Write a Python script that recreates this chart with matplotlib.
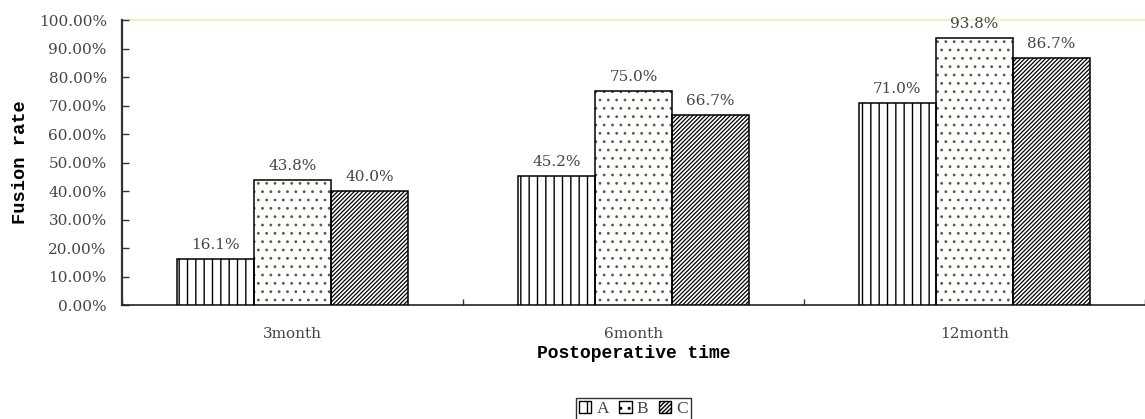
import matplotlib
matplotlib.use("Agg")
import matplotlib.pyplot as plt
from matplotlib.patches import Patch
import numpy as np

# Fusion rate (%) per group at each follow-up time
categories = ["3month", "6month", "12month"]
groups = ["A", "B", "C"]
rate_a = [16.1, 45.2, 71.0]
rate_b = [43.8, 75.0, 93.8]
rate_c = [40.0, 66.7, 86.7]
y_ticks = [0, 10, 20, 30, 40, 50, 60, 70, 80, 90, 100]

series = [rate_a, rate_b, rate_c]
hatches = ["||", "..", "////////"]
hatch_colors = ["black", "#5a5a40", "black"]
hatch_widths = [1.0, 0.8, 0.9]

serif = "DejaVu Serif"
mono = "Liberation Mono"
text_gray = "#454545"

fig = plt.figure(figsize=(11.45, 4.19), dpi=100)
ax = fig.add_axes([0.1066, 0.272, 0.8934, 0.68])

x = np.arange(len(categories))
width = 0.226
offsets = [-width, 0, width]

handles = []
for vals, off, hatch, hc, hw, name in zip(series, offsets, hatches,
                                          hatch_colors, hatch_widths, groups):
    # hatch fill first, then a crisp black outline on top
    with plt.rc_context({"hatch.linewidth": hw}):
        ax.bar(x + off, vals, width, facecolor="white", edgecolor=hc,
               hatch=hatch, linewidth=0, zorder=3)
    bars = ax.bar(x + off, vals, width, fill=False, edgecolor="black",
                  linewidth=1.1, zorder=4)
    with plt.rc_context({"hatch.linewidth": hw}):
        handles.append(Patch(facecolor="white", edgecolor="black",
                             hatch=hatch, linewidth=1.0, label=name))
    for b, v in zip(bars, vals):
        ax.annotate(f"{v:.1f}%", (b.get_x() + b.get_width() / 2, v),
                    xytext=(0, 5), textcoords="offset points",
                    ha="center", va="bottom", fontsize=11,
                    family=serif, color=text_gray)

ax.set_xlim(-0.5, len(categories) - 0.5)
ax.set_ylim(0, 100)

# top reference line at 100%
ax.axhline(100, color="#f3efc6", linewidth=1.6, zorder=1, clip_on=False)

ax.set_yticks(y_ticks)
ax.set_yticklabels([f"{t:.2f}%" for t in y_ticks], family=serif,
                   fontsize=11, color=text_gray)
ax.tick_params(axis="y", direction="in", length=5, width=1, pad=11,
               color="#333333")

ax.set_xticks(x)
ax.set_xticklabels(categories, family=serif, fontsize=11, color=text_gray)
ax.set_xticks(np.arange(len(categories) + 1) - 0.5, minor=True)
ax.tick_params(axis="x", which="major", length=0, pad=16)
ax.tick_params(axis="x", which="minor", direction="in", length=4, width=1,
               color="#333333")

for side in ("top", "right"):
    ax.spines[side].set_visible(False)
ax.spines["left"].set_linewidth(1.6)
ax.spines["left"].set_color("#333333")
ax.spines["bottom"].set_linewidth(1.2)
ax.spines["bottom"].set_color("#222222")

ax.set_ylabel("Fusion rate", family=mono, fontweight="bold", fontsize=13.5)
ax.yaxis.set_label_coords(-0.091, 0.5)
ax.set_xlabel("Postoperative time", family=mono, fontweight="bold",
              fontsize=13, labelpad=3)

leg = fig.legend(handles=handles, loc="lower center",
                 bbox_to_anchor=(0.5533, -0.004), ncol=3,
                 prop={"family": "Liberation Serif", "size": 12.5},
                 frameon=True, fancybox=False, edgecolor="black",
                 handlelength=0.7, handleheight=0.7, handletextpad=0.3,
                 columnspacing=0.6, borderpad=0.2, borderaxespad=0)
leg.get_frame().set_linewidth(1.0)
for t in leg.get_texts():
    t.set_color(text_gray)

fig.savefig("out.png", dpi=100)
